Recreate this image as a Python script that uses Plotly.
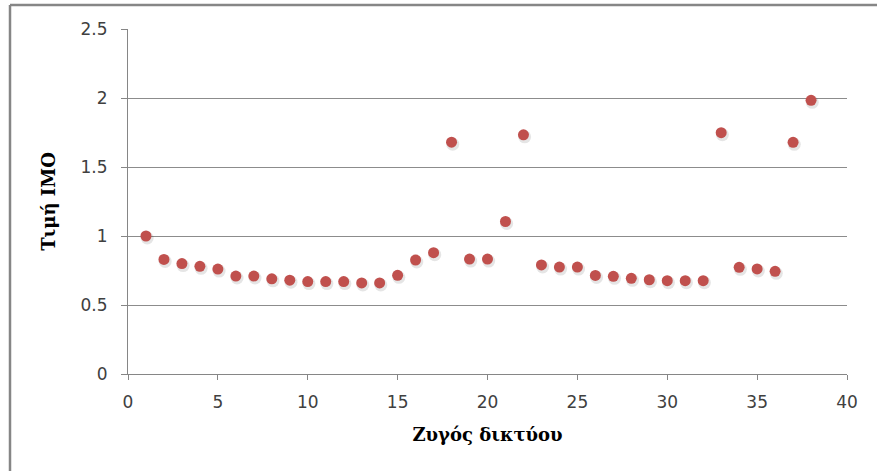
import plotly.graph_objects as go

# Bus index and IMO value per bus
bus = list(range(1, 39))
imo_value = [
    1.00, 0.83, 0.80, 0.78, 0.76, 0.71, 0.71, 0.69, 0.68, 0.67,
    0.67, 0.67, 0.66, 0.66, 0.715, 0.826, 0.879, 1.68, 0.833, 0.833,
    1.105, 1.733, 0.79, 0.775, 0.775, 0.714, 0.708, 0.693, 0.683, 0.676,
    0.676, 0.676, 1.749, 0.773, 0.761, 0.744, 1.679, 1.983,
]

x_ticks = [0, 5, 10, 15, 20, 25, 30, 35, 40]
y_ticks = [0, 0.5, 1, 1.5, 2, 2.5]

W, H = 877, 471
ML, MR, MT, MB = 128, 30, 29, 97
PW, PH = W - ML - MR, H - MT - MB

X_RANGE = [0, 40]
Y_RANGE = [0, 2.5]
# soft drop shadow: same points on an overlay axis nudged by a pixel or two
dx = 1.2 * (X_RANGE[1] - X_RANGE[0]) / PW
dy = 2.0 * (Y_RANGE[1] - Y_RANGE[0]) / PH

tick_font = dict(family="DejaVu Sans, sans-serif", size=17, color="#404040")
title_font = dict(family="DejaVu Serif, serif", size=18, color="#000000")

fig = go.Figure()
# empty trace that anchors the visible axes
fig.add_trace(go.Scatter(x=[], y=[], mode="markers", showlegend=False, hoverinfo="skip"))
# shadow layer (drawn first, underneath)
fig.add_trace(go.Scatter(
    x=bus, y=imo_value, mode="markers", xaxis="x2", yaxis="y2",
    marker=dict(size=13, color="rgba(0,0,0,0.10)", line=dict(width=0)),
    hoverinfo="skip", showlegend=False,
))
# the data points, on an overlay sharing the visible axes' ranges
fig.add_trace(go.Scatter(
    x=bus, y=imo_value, mode="markers", xaxis="x3", yaxis="y3",
    marker=dict(size=11, color="#C0504D", line=dict(width=0)),
    showlegend=False,
))

fig.update_layout(
    width=W, height=H,
    margin=dict(l=ML, r=MR, t=MT, b=MB),
    paper_bgcolor="white", plot_bgcolor="white",
    xaxis=dict(
        range=X_RANGE, tickvals=x_ticks, ticktext=[str(v) for v in x_ticks],
        showgrid=False, zeroline=False, showline=True, linecolor="#868686", linewidth=1,
        ticks="outside", ticklen=5, tickcolor="#868686", tickfont=tick_font,
        ticklabelstandoff=8,
        title=dict(text="<b>Ζυγός δικτύου</b>", font=title_font, standoff=16),
    ),
    yaxis=dict(
        range=Y_RANGE, tickvals=y_ticks, ticktext=["0", "0.5", "1", "1.5", "2", "2.5"],
        showgrid=True, gridcolor="#8C8C8C", gridwidth=1,
        zeroline=False, showline=True, linecolor="#868686", linewidth=1,
        ticks="outside", ticklen=6, tickcolor="#868686", tickfont=tick_font,
        ticklabelstandoff=10,
        title=dict(text="<b>Τιμή ΙΜΟ</b>", font=title_font, standoff=20),
    ),
    xaxis2=dict(range=[X_RANGE[0] - dx, X_RANGE[1] - dx], overlaying="x", visible=False),
    yaxis2=dict(range=[Y_RANGE[0] + dy, Y_RANGE[1] + dy], overlaying="y", visible=False),
    xaxis3=dict(range=X_RANGE, overlaying="x", visible=False),
    yaxis3=dict(range=Y_RANGE, overlaying="y", visible=False),
    shapes=[
        dict(type="line", xref="paper", yref="paper",
             x0=(10 - ML) / PW, x1=(W - ML) / PW,
             y0=(H - MB - 5) / PH, y1=(H - MB - 5) / PH,
             line=dict(color="#868686", width=2.5)),
        dict(type="line", xref="paper", yref="paper",
             x0=(10 - ML) / PW, x1=(10 - ML) / PW,
             y0=(H - MB - 5) / PH, y1=(H - MB - H) / PH,
             line=dict(color="#868686", width=2.5)),
    ],
)

fig.write_html("out.html")
